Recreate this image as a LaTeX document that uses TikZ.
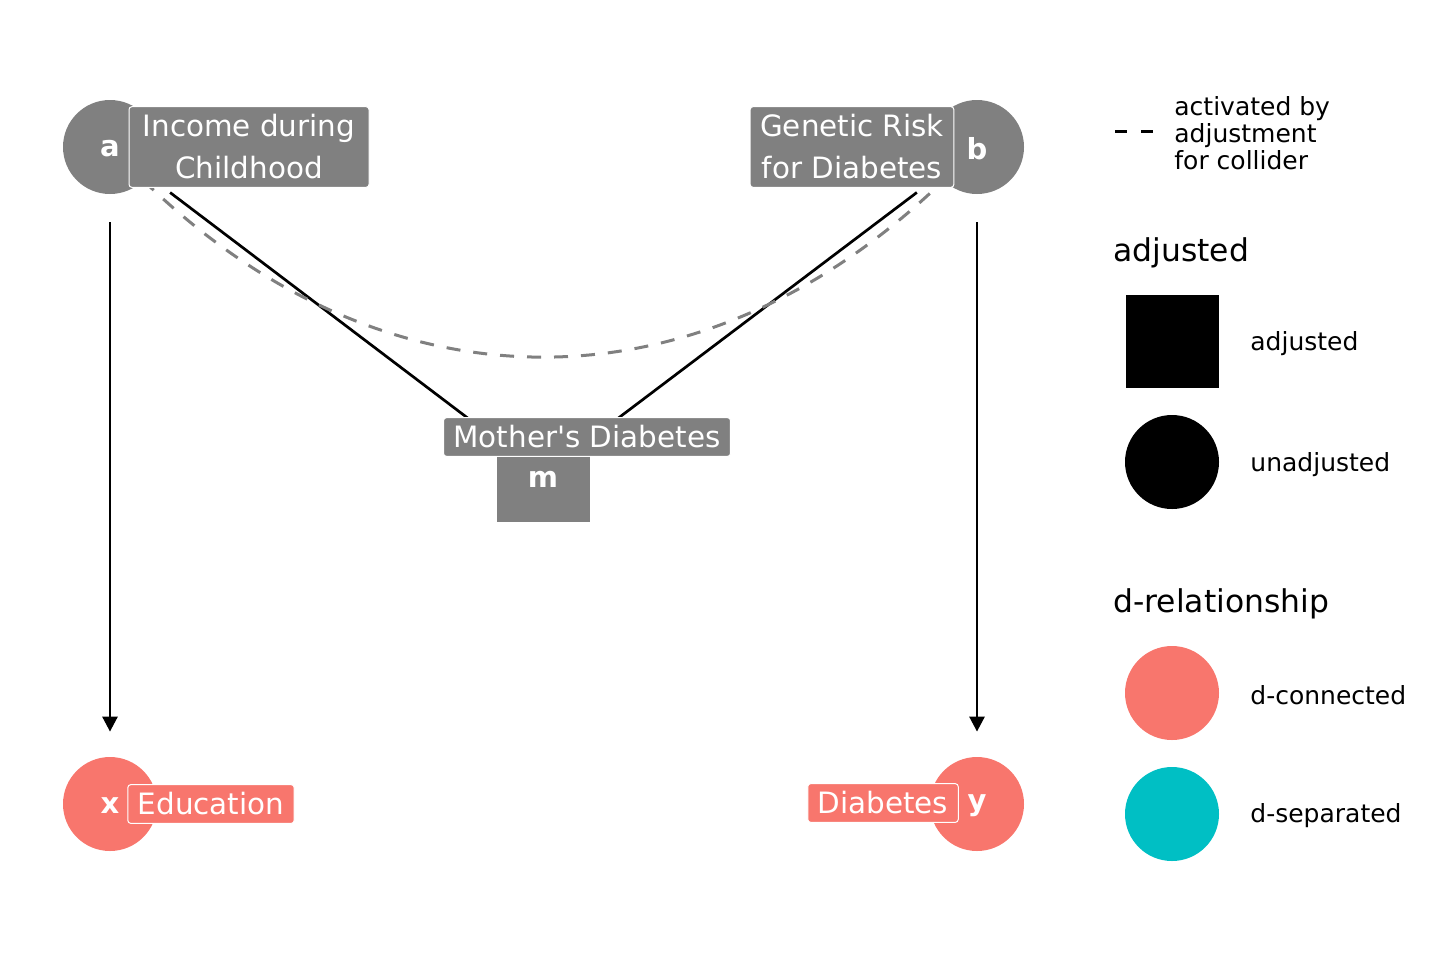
\documentclass[tikz,border=0pt]{standalone}
\usepackage{fontspec}
\setmainfont{DejaVu Sans}
\usetikzlibrary{arrows.meta}

\definecolor{nodegray}{HTML}{808080}
\definecolor{dconn}{HTML}{F8766D}
\definecolor{dsep}{HTML}{00BFC4}

\tikzset{
	dagnode/.style={circle, minimum size=47pt, inner sep=0pt, text=white, font=\fontsize{14}{16}\selectfont\bfseries},
	dagsquare/.style={rectangle, minimum size=46.5pt, inner sep=0pt},
	dagletter/.style={text=white, font=\fontsize{14.5}{16}\selectfont\bfseries},
	daglabel/.style={rectangle, rounded corners=1.5pt, draw=white, line width=0.5pt, text=white, align=center,
		inner xsep=5pt, inner ysep=4pt, font=\fontsize{14.7}{21}\selectfont},
	dagedge/.style={line width=1.35pt, -{Triangle[length=7.5pt,width=7.5pt]}, shorten <=14pt},
	colledge/.style={line width=1.5pt, nodegray, dash pattern=on 7pt off 6.5pt},
	legtext/.style={anchor=west, inner sep=0pt, font=\fontsize{12.5}{14}\selectfont},
	legtitle/.style={anchor=west, inner sep=0pt, font=\fontsize{15.7}{18}\selectfont}
}

\begin{document}
\begin{tikzpicture}[x=0.5pt, y=-0.5pt]
		\useasboundingbox (0,0) rectangle (1440,960);
		\node[dagnode, fill=nodegray] (a) at (110,147) {};
		\node[dagnode, fill=nodegray] (b) at (977,147) {};
		\node[dagnode, fill=dconn] (x) at (110,804) {};
		\node[dagnode, fill=dconn] (y) at (977,804) {};
		\node[dagsquare, fill=nodegray] (m) at (543,475) {};
		\draw[dagedge, shorten >=12.5pt] (a) -- (x);
		\draw[dagedge, shorten >=12.5pt] (b) -- (y);
		\draw[dagedge] (a) -- (m);
		\draw[dagedge] (b) -- (m);
		\draw[colledge] (a.-45) .. controls (386,416) and (700,416) .. (b.-135);
		\node[dagletter] (alet) at (110,149) {a};
		\node[dagletter] (blet) at (977,149) {b};
		\node[dagletter] (xlet) at (110,806) {x};
		\node[dagletter] (ylet) at (977,806) {y};
		\node[dagletter] (mlet) at (543,479) {m};
		\node[daglabel, fill=nodegray, minimum width=120pt] (alab) at (249,147) {Income during\\ Childhood};
		\node[daglabel, fill=nodegray] (blab) at (852,147) {Genetic Risk\\ for Diabetes};
		\node[daglabel, fill=nodegray] (mlab) at (587,437) {Mother\textquotesingle s Diabetes};
		\node[daglabel, fill=dconn] (xlab) at (211,804) {Education};
		\node[daglabel, fill=dconn] (ylab) at (883,803) {Diabetes};
		\coordinate (dl) at (1115,131);
		\coordinate (dr) at (1153,131);
		\draw[line width=1.5pt, dash pattern=on 6pt off 7pt] (dl) -- (dr);
		\node[legtext, align=left, font=\fontsize{12.5}{13.5}\selectfont] (lcoll) at (1174,133) {activated by\\ adjustment\\ for collider};
		\node[legtitle] (tadj) at (1113,253) {adjusted};
		\node[dagsquare, fill=black] (ksq) at (1172,341) {};
		\node[legtext] (tsq) at (1250,344) {adjusted};
		\node[dagnode, fill=black] (kci) at (1172,462) {};
		\node[legtext] (tci) at (1250,465) {unadjusted};
		\node[legtitle] (trel) at (1113,604) {d-relationship};
		\node[dagnode, fill=dconn] (kcon) at (1172,693) {};
		\node[legtext] (tcon) at (1250,695) {d-connected};
		\node[dagnode, fill=dsep] (ksep) at (1172,814) {};
		\node[legtext] (tsep) at (1250,816) {d-separated};
	\end{tikzpicture}
\end{document}
